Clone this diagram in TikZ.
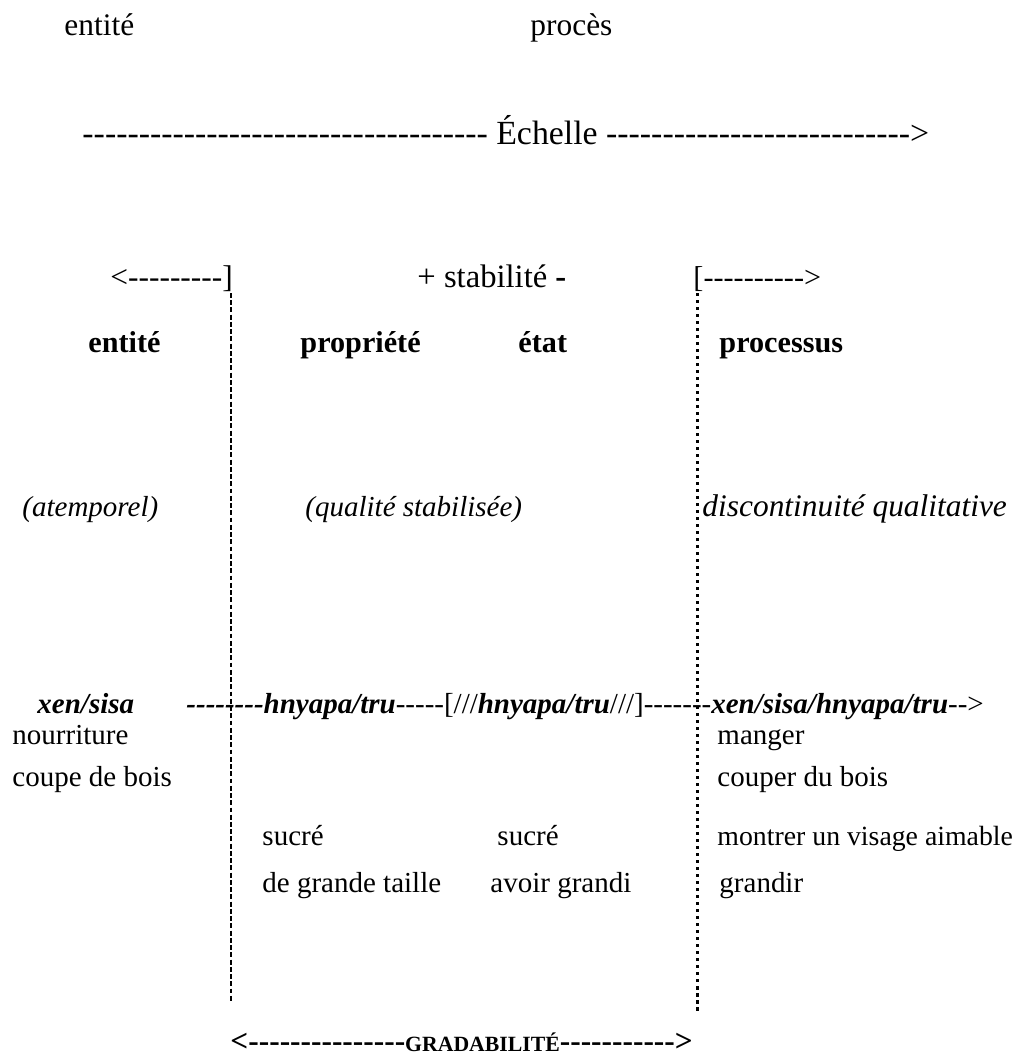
\documentclass[tikz,border=0pt]{standalone}
\usepackage{fontspec}
\setmainfont{Liberation Serif}[Ligatures=TeXOff]
\newcommand\fs[1]{\fontsize{#1}{1.2\dimexpr#1\relax}\selectfont}
\begin{document}
\fs{12pt}
\begin{tikzpicture}[x=0.414pt,y=-0.414pt,
		every node/.style={inner sep=0pt,anchor=base west},
		titre/.style={font=\fs{13pt}},
		cat/.style={font=\fs{12.5pt}\bfseries},
		bi/.style={font=\bfseries\itshape}]
				\useasboundingbox (0,0) rectangle (1022,1060);
				
				\coordinate (lt) at (231,293);
				\coordinate (lb) at (231,1003);
				\coordinate (rt) at (697,293);
				\coordinate (rb) at (697,1012);
				
				\draw[line width=.8pt,dash pattern=on 2pt off 1pt] (lt) -- (lb);
				\draw[line width=1.25pt,dash pattern=on 1.25pt off 1.65pt] (rt) -- (rb);
				
				\node[titre] (ent) at (64,36) {entité};
				\node[titre] (proc) at (530,36) {procès};
				\node[font=\fs{14pt}] (ech) at (82,145) {------------------------------------ Échelle ---------------------------{>}};
				
				\node[titre] (stabg) at (110,287) {<---------]};
				\node[font=\fs{13.5pt}] (stab) at (417,287) {+ stabilité \textbf{-}};
				\node[font=\fs{12.5pt}] (stabd) at (693,287) {[----------{>}};
				
				\node[cat] (entite) at (88,352) {entité};
				\node[cat] (prop) at (300,352) {propriété};
				\node[cat] (etat) at (518,352) {état};
				\node[cat] (procs) at (719,352) {processus};
				
				\node[font=\itshape] (atemp) at (22,516) {(atemporel)};
				\node[font=\itshape] (qual) at (305,516) {(qualité stabilisée)};
				\node[font=\fs{13pt}\itshape] (disc) at (702,516) {discontinuité qualitative};
				
				\node[bi] (xen) at (37,713) {xen/sisa};
				\node (chaine) at (186,713) {\textbf{\textit{--------hnyapa/tru}}-----[///\textbf{\textit{hnyapa/tru}}///]-------\textbf{\textit{xen/sisa/hnyapa/tru}}--{>}};
				
				\node (nour) at (12,744) {nourriture};
				\node (mang) at (717,744) {manger};
				\node (coupe) at (12,786) {coupe de bois};
				\node (couper) at (717,786) {couper du bois};
				
				\node (sucrp) at (262,845) {sucré};
				\node (sucre) at (497,845) {sucré};
				\node[font=\fs{11.5pt}] (visage) at (717,845) {montrer un visage aimable};
				\node (taille) at (262,892) {de grande taille};
				\node (grandi) at (490,892) {avoir grandi};
				\node (grandir) at (719,892) {grandir};
				
				\node[font=\fs{13pt}\bfseries] (grad) at (230,1051) {<---------------{\fs{9pt}GRADABILITÉ}-----------{>}};
			\end{tikzpicture}
\end{document}
